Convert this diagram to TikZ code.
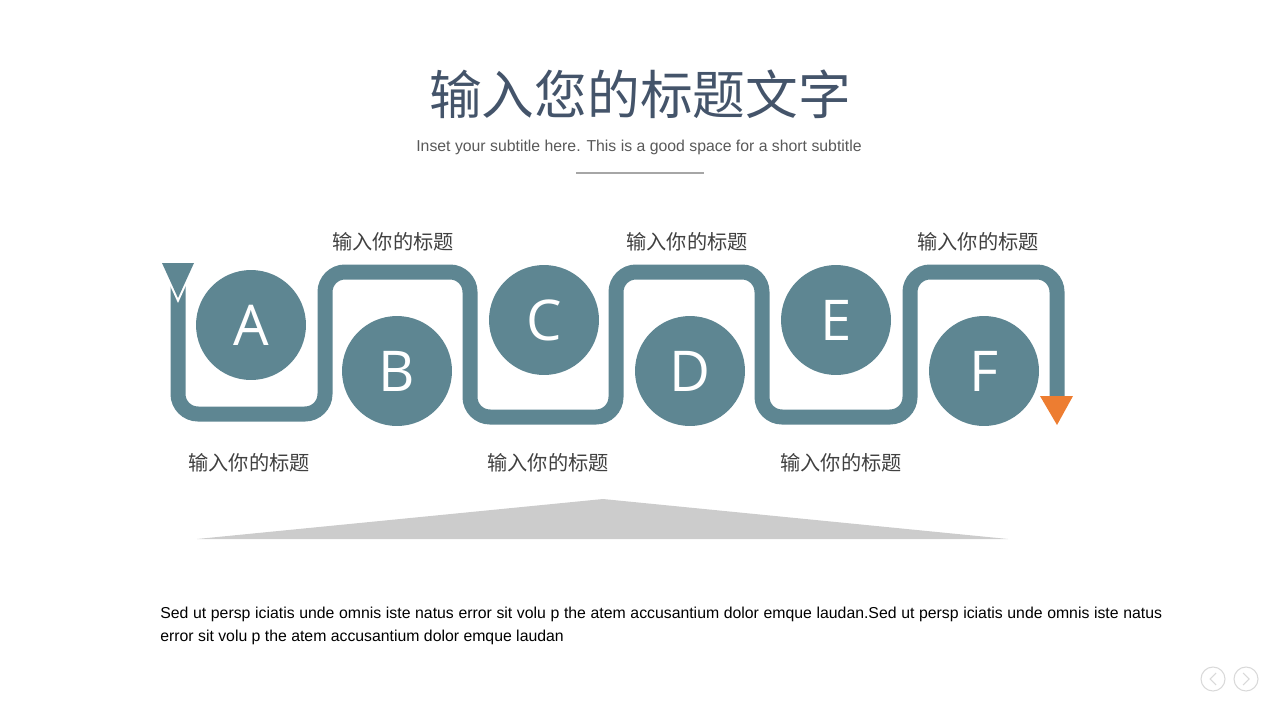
\documentclass[tikz,border=0pt]{standalone}
\usepackage{fontspec}
\setmainfont{Liberation Sans}
\newfontfamily\cjk{Noto Sans CJK SC}
\newfontfamily\letterfont{Open Sans}
\definecolor{pathteal}{HTML}{5E8692}
\definecolor{titleblue}{HTML}{44546A}
\definecolor{subgray}{HTML}{595959}
\definecolor{labelgray}{HTML}{404040}
\definecolor{rulegray}{HTML}{A6A6A6}
\definecolor{basegray}{HTML}{CCCCCC}
\definecolor{navgray}{HTML}{D9D9D9}
\definecolor{endorange}{HTML}{ED7D31}

\begin{document}
\begin{tikzpicture}[x=0.02cm, y=-0.02cm,
    disc/.style={circle, fill=pathteal, minimum size=2.2cm, inner sep=0pt, text=white,
        font=\letterfont\fontsize{32}{32}\selectfont},
    steplabel/.style={font=\cjk\fontsize{11.5}{14}\selectfont, text=labelgray},
    navbtn/.style={circle, draw=navgray, line width=0.6pt, minimum size=0.48cm, inner sep=0pt}]

\useasboundingbox (0,0) rectangle (1280,720);

% Title and subtitle
\node[font=\cjk\fontsize{30}{36}\selectfont, text=titleblue] (title) at (640,94) {输入您的标题文字};
\node[font=\fontsize{9}{11}\selectfont, text=subgray] (subtitle) at (639,147) {Inset your subtitle here. This is a good space for a short subtitle};
\draw[rulegray, line width=0.04cm] (576,173) -- (704,173);

% Draw the winding path
\draw[pathteal, line width=0.3cm, rounded corners=0.4cm]
    (178,285) -- (178,414) -- (325,414) -- (325,272) -- (470,272) -- (470,417)
    -- (616,417) -- (616,272) -- (762,272) -- (762,417) -- (910,417)
    -- (910,272) -- (1057,272) -- (1057,398);

% Start and end triangles
\fill[white] (162,268) -- (194,268) -- (178,303) -- cycle;
\fill[pathteal] (162,263) -- (194,263) -- (178,298) -- cycle;
\fill[endorange] (1040,396) -- (1073,396) -- (1057,425) -- cycle;

% Draw the lettered discs
\foreach \n/\x/\y in {A/251/325, B/397/371, C/544/320, D/690/371, E/836/320, F/984/371} {
    \node[disc] (\n) at (\x,\y) {\n};
}

% Step labels above and below
\foreach \i/\x/\y in {1/393/242, 2/687/242, 3/978/242, 4/249/463, 5/548/463, 6/841/463} {
    \node[steplabel] (lab\i) at (\x,\y) {输入你的标题};
}

% Grey base
\fill[basegray] (197,539) -- (603,499) -- (1008,539) -- cycle;

% Body text
\node[anchor=north west, inner sep=0pt, text width=20.04cm, align=justify,
      font=\fontsize{9}{13}\selectfont] (body) at (160,607)
    {Sed ut persp iciatis unde omnis iste natus error sit volu p the atem accusantium dolor emque laudan.Sed ut persp iciatis unde omnis iste natus\linebreak error sit volu p the atem accusantium dolor emque laudan};

% Navigation buttons
\node[navbtn] (prev) at (1213,679) {};
\node[navbtn] (next) at (1246,679) {};
\draw[navgray, line width=0.6pt] ([xshift=0.06cm, yshift=0.12cm]prev.center) -- ([xshift=-0.06cm]prev.center) -- ([xshift=0.06cm, yshift=-0.12cm]prev.center);
\draw[navgray, line width=0.6pt] ([xshift=-0.06cm, yshift=0.12cm]next.center) -- ([xshift=0.06cm]next.center) -- ([xshift=-0.06cm, yshift=-0.12cm]next.center);

\end{tikzpicture}
\end{document}
